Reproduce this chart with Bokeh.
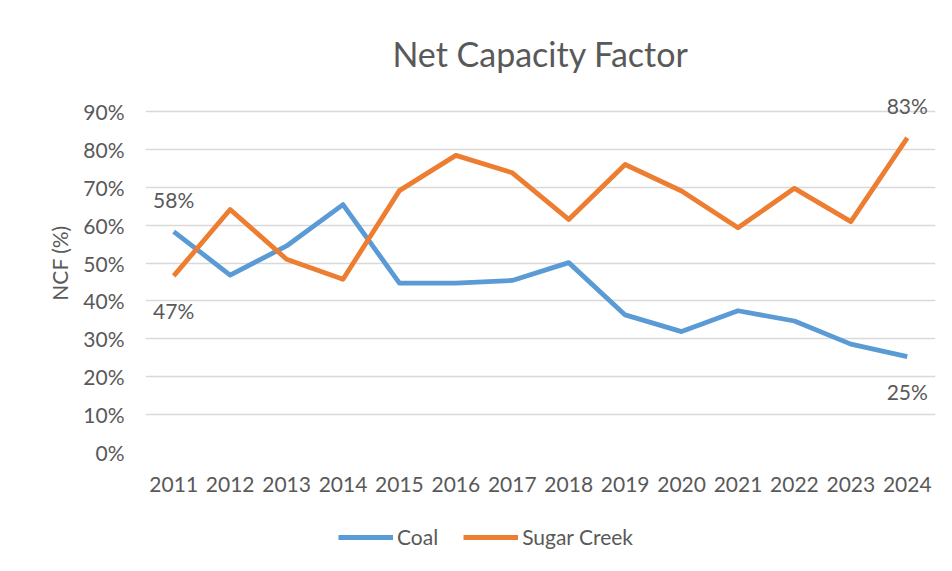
from bokeh.plotting import figure
from bokeh.layouts import column
from bokeh.models import ColumnDataSource, Range1d, FactorRange, Legend, LegendItem, FixedTicker
from bokeh.core.properties import value
from bokeh.embed import file_html
from bokeh.resources import INLINE

# ---- data ----
years = ["2011", "2012", "2013", "2014", "2015", "2016", "2017",
         "2018", "2019", "2020", "2021", "2022", "2023", "2024"]
coal = [58.3, 46.8, 54.5, 65.4, 44.7, 44.7, 45.4, 50.1, 36.3, 31.9, 37.4, 34.7, 28.6, 25.3]
sugar_creek = [46.6, 64.1, 51.0, 45.7, 69.1, 78.4, 73.8, 61.5, 76.0, 69.0, 59.3, 69.7, 60.9, 83.0]
series_names = ["Coal", "Sugar Creek"]
y_ticks = [0, 10, 20, 30, 40, 50, 60, 70, 80, 90]
y_tick_labels = [f"{t}%" for t in y_ticks]

FONT = "Lato"
TEXT_COLOR = "#595959"
BLUE = "#5B9BD5"
ORANGE = "#ED7D31"
COLORS = [BLUE, ORANGE]

p = figure(frame_width=790, frame_height=379,
           x_range=FactorRange(*years), y_range=Range1d(0, 100),
           output_backend="svg", toolbar_location=None,
           min_border_left=145, min_border_right=1,
           min_border_top=73, min_border_bottom=50)
p.outline_line_color = None

# title
p.title.text = "Net Capacity Factor"
p.title.align = "center"
p.title.text_font = FONT
p.title.text_font_size = "34px"
p.title.text_font_style = "normal"
p.title.text_color = TEXT_COLOR
p.title.standoff = 0

# grid
p.xgrid.grid_line_color = None
p.ygrid.grid_line_color = "#D9D9D9"
p.ygrid.grid_line_width = 1.5
p.ygrid.ticker = FixedTicker(ticks=y_ticks)

# axes
for ax in (p.xaxis[0], p.yaxis[0]):
    ax.axis_line_color = None
    ax.major_tick_line_color = None
    ax.minor_tick_line_color = None
    ax.major_label_text_font = FONT
    ax.major_label_text_font_size = "21px"
    ax.major_label_text_color = TEXT_COLOR
    ax.axis_label_text_font = FONT
    ax.axis_label_text_font_size = "21px"
    ax.axis_label_text_font_style = "normal"
    ax.axis_label_text_color = TEXT_COLOR

p.xaxis.major_label_standoff = 18
p.yaxis.ticker = FixedTicker(ticks=y_ticks)
p.yaxis.major_label_overrides = dict(zip(y_ticks, y_tick_labels))
p.yaxis.major_label_standoff = 15
p.yaxis.axis_label = "NCF (%)"
p.yaxis.axis_label_standoff = 8

# lines
src = ColumnDataSource(dict(year=years, coal=coal, sugar=sugar_creek))
p.line("year", "coal", source=src, line_color=BLUE, line_width=4.8, line_join="round")
p.line("year", "sugar", source=src, line_color=ORANGE, line_width=4.8, line_join="round")

# end-point data labels
lx, ly, lt, loff = [], [], [], []
for i in (0, len(years) - 1):
    pair = [coal[i], sugar_creek[i]]
    hi = max(pair)
    for v in pair:
        lx.append(years[i])
        ly.append(v)
        lt.append(f"{v:.0f}%")
        loff.append(-32 if v == hi else 35)
lsrc = ColumnDataSource(dict(x=lx, y=ly, t=lt, off=loff))
p.text("x", "y", text="t", y_offset="off", source=lsrc,
       text_font=value(FONT), text_font_size="21px", text_color=TEXT_COLOR,
       text_align="center", text_baseline="middle")

# legend strip below the chart (same series, drawn outside its visible range)
lg = figure(width=936, height=53, x_axis_type=None, y_axis_type=None,
            output_backend="svg", toolbar_location=None,
            min_border=0, x_range=FactorRange(*years), y_range=Range1d(1000, 1001))
lg.outline_line_color = None
lg.grid.grid_line_color = None
items = []
for name, field, col in zip(series_names, ["coal", "sugar"], COLORS):
    r = lg.line("year", field, source=src, line_color=col, line_width=4.8)
    items.append(LegendItem(label=name, renderers=[r]))
legend = Legend(items=items, location=(193, 6), orientation="horizontal")
legend.label_text_font = FONT
legend.label_text_font_size = "21px"
legend.label_text_color = TEXT_COLOR
legend.glyph_width = 55
legend.label_standoff = 4
legend.spacing = 25
legend.padding = 0
legend.margin = 0
legend.border_line_color = None
legend.background_fill_alpha = 0
lg.add_layout(legend, "center")

layout = column(p, lg, spacing=0)
open("out.html", "w").write(file_html(layout, INLINE))
